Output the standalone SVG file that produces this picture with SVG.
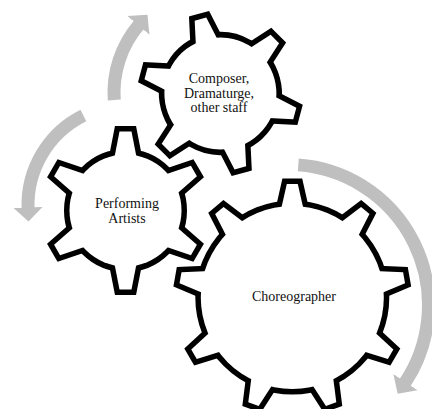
<svg xmlns="http://www.w3.org/2000/svg" xmlns:xlink="http://www.w3.org/1999/xlink" width="432" height="409" viewBox="0 0 432 409">
<defs>
<style>
.gs{fill:#fff;stroke:#000;stroke-width:11;stroke-linejoin:miter}
.gf{fill:#fff;stroke:none}
.arc{fill:none;stroke:#bfbfbf;stroke-width:13;marker-end:url(#ah)}
.lbl{font-family:"Liberation Serif","Times New Roman",serif;font-size:14px;fill:#111;text-anchor:middle}
</style>
<marker id="ah" markerUnits="userSpaceOnUse" orient="auto" viewBox="-1 -15 15 30" refX="0" refY="0" markerWidth="15" markerHeight="30">
<path d="M-1,-14.5 L13,0 L-1,14.5 Z" fill="#bfbfbf"/>
</marker>
<polygon id="tA" points="-6,-79 6,-79 12.85,-44 -12.85,-44"/>
<g id="gearA">
<circle r="56"/>
<use href="#tA"/><use href="#tA" transform="rotate(60)"/><use href="#tA" transform="rotate(120)"/>
<use href="#tA" transform="rotate(180)"/><use href="#tA" transform="rotate(240)"/><use href="#tA" transform="rotate(300)"/>
</g>
<polygon id="tB" points="-6,-77 6,-77 13.1,-44 -13.1,-44"/>
<g id="gearB">
<circle r="56"/>
<use href="#tB"/><use href="#tB" transform="rotate(60)"/><use href="#tB" transform="rotate(120)"/>
<use href="#tB" transform="rotate(180)"/><use href="#tB" transform="rotate(240)"/><use href="#tB" transform="rotate(300)"/>
</g>
<polygon id="tC" points="-5.5,-113.5 5.5,-113.5 13.1,-80 -13.1,-80"/>
<g id="gearC">
<circle r="91.5"/>
<use href="#tC"/><use href="#tC" transform="rotate(40)"/><use href="#tC" transform="rotate(80)"/>
<use href="#tC" transform="rotate(120)"/><use href="#tC" transform="rotate(160)"/><use href="#tC" transform="rotate(200)"/>
<use href="#tC" transform="rotate(240)"/><use href="#tC" transform="rotate(280)"/><use href="#tC" transform="rotate(320)"/>
</g>
</defs>
<rect width="432" height="409" fill="#fff"/>
<g id="connectors">
<path class="arc" d="M114.27,99.97 A104.5,104.5 0 0 1 139.04,24.63"/>
<path class="arc" d="M83.38,115.51 A100,100 0 0 0 28.06,208.49"/>
<path class="arc" d="M298.29,164.88 A140.5,140.5 0 0 1 404.89,382.95"/>
</g>
<g id="node-composer">
<use href="#gearB" class="gs" transform="translate(220.4,93.5) rotate(-15)"/>
<use href="#gearB" class="gf" transform="translate(220.4,93.5) rotate(-15)"/>
<text class="lbl" x="219" y="83">Composer,</text>
<text class="lbl" x="219" y="97.5">Dramaturge,</text>
<text class="lbl" x="219" y="112">other staff</text>
</g>
<g id="node-performing">
<use href="#gearA" class="gs" transform="translate(125.5,210.5)"/>
<use href="#gearA" class="gf" transform="translate(125.5,210.5)"/>
<text class="lbl" x="127" y="208">Performing</text>
<text class="lbl" x="127" y="223">Artists</text>
</g>
<g id="node-choreographer">
<use href="#gearC" class="gs" transform="translate(292.3,297.5)"/>
<use href="#gearC" class="gf" transform="translate(292.3,297.5)"/>
<text class="lbl" x="294" y="300.5">Choreographer</text>
</g>
</svg>
